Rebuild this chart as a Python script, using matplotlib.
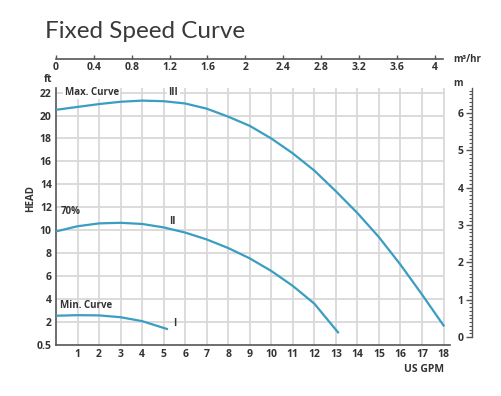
import matplotlib
matplotlib.use('Agg')
import matplotlib.pyplot as plt
from matplotlib.ticker import MultipleLocator, FixedLocator

plt.rcParams['font.family'] = ['Lato', 'DejaVu Sans']
BOLD_FONT = ['Open Sans', 'DejaVu Sans']

# pump curves: flow (US GPM) vs head (ft)
max_gpm = [0, 1, 2, 3, 4, 5, 6, 7, 8, 9, 10, 11, 12, 13, 14, 15, 16, 17, 18]
max_ft = [20.5, 20.75, 21.0, 21.2, 21.3, 21.25, 21.05, 20.6, 19.9, 19.1,
          18.0, 16.7, 15.2, 13.4, 11.5, 9.4, 7.0, 4.4, 1.7]
mid_gpm = [0, 1, 2, 3, 4, 5, 6, 7, 8, 9, 10, 11, 12, 13.1]
mid_ft = [9.9, 10.35, 10.6, 10.65, 10.55, 10.25, 9.8, 9.2, 8.45, 7.55, 6.45, 5.15, 3.6, 1.1]
min_gpm = [0, 1, 2, 3, 4, 5.15]
min_ft = [2.55, 2.6, 2.58, 2.42, 2.08, 1.4]

gpm_ticks = list(range(1, 19))
ft_ticks = [0, 2, 4, 6, 8, 10, 12, 14, 16, 18, 20, 22]
ft_labels = ['0.5', '2', '4', '6', '8', '10', '12', '14', '16', '18', '20', '22']
m3h_ticks = [0, 0.4, 0.8, 1.2, 1.6, 2, 2.4, 2.8, 3.2, 3.6, 4]
m_ticks = [0, 1, 2, 3, 4, 5, 6]

GPM_PER_M3H = 4.403
W, H = 502, 396
curve_color = '#3a9dc2'
text_color = '#333333'
grid_color = '#d9d9d9'


def fx(px):
    return px / W


def fy(py):
    return 1 - py / H


def bold_labels(labels, size=7.5):
    for t in labels:
        t.set_fontfamily(BOLD_FONT)
        t.set_fontweight('bold')
        t.set_fontsize(size)


fig = plt.figure(figsize=(W / 100, H / 100), dpi=100)
fig.text(fx(45), fy(31), 'Fixed Speed Curve', fontsize=17.5, color='#3a3a3a',
         va='center', ha='left')

# main axes
ax = fig.add_axes([fx(56), fy(345), fx(450 - 56), fy(88) - fy(345)])
ax.set_xlim(0, 18.3)
ax.set_ylim(0, 22.4)
ax.vlines(gpm_ticks, 0, 22.4, color=grid_color, lw=1.3, zorder=1)
ax.hlines(ft_ticks[1:], 0, 18, color=grid_color, lw=1.3, zorder=1)

ax.plot(max_gpm, max_ft, color=curve_color, lw=1.6, zorder=3)
ax.plot(mid_gpm, mid_ft, color=curve_color, lw=1.6, zorder=3)
ax.plot(min_gpm, min_ft, color=curve_color, lw=1.6, zorder=3)

lbl = dict(fontsize=7, fontweight='bold', color=text_color, zorder=4,
           family=BOLD_FONT)
ax.text(0.4, 22, 'Max. Curve', va='center', ha='left',
        bbox=dict(facecolor='white', edgecolor='none', pad=1), **lbl)
ax.text(5.45, 22, 'III', va='center', ha='center',
        bbox=dict(facecolor='white', edgecolor='none', pad=1), **lbl)
ax.text(0.2, 11.6, '70%', va='center', ha='left', **lbl)
ax.text(5.4, 10.8, 'II', va='center', ha='center', **lbl)
ax.text(0.2, 3.4, 'Min. Curve', va='center', ha='left', **lbl)
ax.text(5.5, 1.9, 'I', va='center', ha='center', **lbl)

for s in ['top', 'right']:
    ax.spines[s].set_visible(False)
for s in ['left', 'bottom']:
    ax.spines[s].set_color('#555555')
    ax.spines[s].set_linewidth(1.2)
ax.set_xticks(gpm_ticks)
ax.set_yticks(ft_ticks)
ax.set_yticklabels(ft_labels)
ax.tick_params(length=0, pad=3, labelcolor=text_color)
bold_labels(ax.get_xticklabels() + ax.get_yticklabels())
ax.text(17.1, -2.1, 'US GPM', fontsize=7.5, fontweight='bold', color=text_color,
        family=BOLD_FONT, ha='center', va='center', clip_on=False)
ax.text(-0.35, 23.1, 'ft', fontsize=7.5, fontweight='bold', color=text_color,
        family=BOLD_FONT, ha='center', va='center', clip_on=False)
fig.text(fx(31), fy(198), 'HEAD', rotation=90, fontsize=7, fontweight='bold',
         family=BOLD_FONT, color=text_color, ha='center', va='center')

# top flow axis in m3/hr
axt = fig.add_axes([fx(56), fy(59), fx(443 - 56), 0.01])
axt.set_xlim(0, 18 / GPM_PER_M3H)
axt.patch.set_visible(False)
for s in ['top', 'right', 'left']:
    axt.spines[s].set_visible(False)
axt.spines['bottom'].set_position(('axes', 0))
axt.spines['bottom'].set_color('#555555')
axt.spines['bottom'].set_linewidth(1.2)
axt.set_yticks([])
axt.set_xticks(m3h_ticks)
axt.set_xticklabels([f'{v:g}' for v in m3h_ticks])
axt.tick_params(axis='x', direction='in', length=3, width=1, color='#555555',
                labelcolor=text_color, pad=2)
bold_labels(axt.get_xticklabels())
fig.text(fx(453), fy(60), 'm³/hr', fontsize=7, fontweight='bold',
         family=BOLD_FONT, color=text_color, ha='left', va='center')

# right head axis in metres
axm = fig.add_axes([fx(472), fy(337), 0.01, fy(88) - fy(337)])
axm.set_ylim(0, 6.67)
axm.patch.set_visible(False)
for s in ['top', 'right', 'bottom']:
    axm.spines[s].set_visible(False)
axm.spines['left'].set_color('#555555')
axm.spines['left'].set_linewidth(1.0)
axm.set_xticks([])
axm.yaxis.set_major_locator(FixedLocator(m_ticks))
axm.yaxis.set_minor_locator(MultipleLocator(0.1))
axm.tick_params(axis='y', which='major', direction='out', length=4, width=1,
                color='#555555', labelcolor=text_color, pad=2)
axm.tick_params(axis='y', which='minor', direction='out', length=2.5, width=0.8,
                color='#555555')
bold_labels(axm.get_yticklabels())
fig.text(fx(458), fy(83), 'm', fontsize=7, fontweight='bold',
         family=BOLD_FONT, color=text_color, ha='center', va='center')

fig.savefig('out.png', dpi=100, facecolor='white')
